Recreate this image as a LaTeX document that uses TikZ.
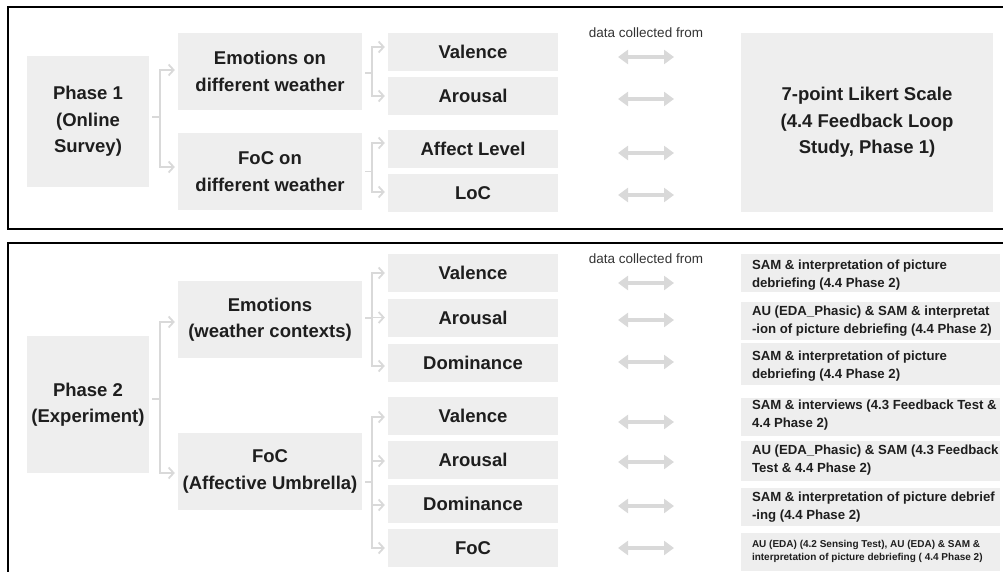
\documentclass[tikz,border=0pt]{standalone}
\usepackage{fontspec}
\setmainfont{Liberation Sans}
\usetikzlibrary{arrows.meta,calc}
\definecolor{boxgray}{HTML}{EEEEEE}
\definecolor{linegray}{HTML}{D9D9D9}
\definecolor{txt}{HTML}{1E1E1E}
\definecolor{txtlight}{HTML}{333333}
\begin{document}
\begin{tikzpicture}[x=1pt,y=-1pt,
  box/.style={fill=boxgray, draw=none, inner sep=0pt, align=center, text=txt,
    font=\bfseries\fontsize{18.5}{26.5}\selectfont},
  lvl/.style={box, minimum width=184pt, minimum height=77pt},
  var/.style={box, minimum width=170pt, minimum height=38pt},
  srcbox/.style={fill=boxgray, draw=none, inner sep=0pt, minimum width=259pt, minimum height=38pt},
  srctext/.style={anchor=west, inner sep=0pt, align=left, text=txt,
    font=\bfseries\fontsize{13.2}{18.3}\selectfont},
  conn/.style={draw=linegray, line width=1.8pt, -{Straight Barb[length=5pt,width=11pt]},
    shorten <=3pt, shorten >=3pt},
  dbl/.style={draw=linegray, line width=4pt,
    {Triangle[length=10pt,width=14pt]}-{Triangle[length=10pt,width=14pt]}},
  frame/.style={draw=black, line width=2.2pt},
  dlabel/.style={text=txtlight, inner sep=0pt, font=\fontsize{13.5}{16}\selectfont}
]
\useasboundingbox (0,0) rectangle (1003,572);
\clip (0,0) rectangle (1003,572);

% frames
\draw[frame] (8,7) rectangle (1012,229);
\draw[frame] (8,243) rectangle (1012,590);

% ---------------- Phase 1 ----------------
\node[box, minimum width=122pt, minimum height=131pt] (p1) at (88,121.5) {Phase 1\\(Online\\Survey)};
\node[lvl] (e1) at (270,71.5) {Emotions on\\different weather};
\node[lvl] (f1) at (270,171.5) {FoC on\\different weather};
\node[var] (v1) at (473,52) {Valence};
\node[var] (a1) at (473,96) {Arousal};
\node[var] (al1) at (473,149) {Affect Level};
\node[var] (l1) at (473,193) {LoC};
\node[box, minimum width=252pt, minimum height=179pt] (lk) at (867,122.5) {7-point Likert Scale\\(4.4 Feedback Loop\\Study, Phase 1)};
\node[dlabel] (dc1) at (646,33) {data collected from};

\draw[conn] ([yshift=4.5pt]p1.east) -- ++(11,0) |- ([yshift=1.5pt]e1.west);
\draw[conn] ([yshift=4.5pt]p1.east) -- ++(11,0) |- ([yshift=4.5pt]f1.west);
\draw[conn] ([yshift=-1.5pt]e1.east) -- ++(10,0) |- ([yshift=5pt]v1.west);
\draw[conn] ([yshift=-1.5pt]e1.east) -- ++(10,0) |- (a1.west);
\draw[conn] (f1.east) -- ++(10,0) |- ([yshift=6pt]al1.west);
\draw[conn] (f1.east) -- ++(10,0) |- ([yshift=1pt]l1.west);

\coordinate (ta1) at (618,57);  \coordinate (tb1) at (674,57);
\coordinate (ta2) at (618,99);  \coordinate (tb2) at (674,99);
\coordinate (ta3) at (618,153); \coordinate (tb3) at (674,153);
\coordinate (ta4) at (618,195); \coordinate (tb4) at (674,195);
\foreach \i in {1,...,4} {\draw[dbl] (ta\i) -- (tb\i);}

% ---------------- Phase 2 ----------------
\node[box, minimum width=122pt, minimum height=137pt] (p2) at (88,404.5) {Phase 2\\(Experiment)};
\node[lvl] (e2) at (270,319.5) {Emotions\\(weather contexts)};
\node[lvl] (f2) at (270,471.5) {FoC\\(Affective Umbrella)};
\node[var] (v2) at (473,273) {Valence};
\node[var] (a2) at (473,317.5) {Arousal};
\node[var] (d2) at (473,362.5) {Dominance};
\node[var] (v3) at (473,415.5) {Valence};
\node[var] (a3) at (473,459.5) {Arousal};
\node[var] (d3) at (473,504) {Dominance};
\node[var] (fc3) at (473,548) {FoC};
\node[dlabel] (dc2) at (646,259) {data collected from};

\node[srcbox] (s1) at (870.5,273) {};
\node[srcbox] (s2) at (870.5,321) {};
\node[srcbox, minimum height=42pt] (s3) at (870.5,364) {};
\node[srcbox] (s4) at (870.5,417) {};
\node[srcbox, minimum height=40pt] (s5) at (870.5,461) {};
\node[srcbox] (s6) at (870.5,507) {};
\node[srcbox] (s7) at (870.5,551.5) {};
\node[srctext] (t1) at ([xshift=11pt,yshift=-2pt]s1.west) {SAM \& interpretation of picture\\debriefing (4.4 Phase 2)};
\node[srctext] (t2) at ([xshift=11pt,yshift=0pt]s2.west) {AU (EDA\_Phasic) \& SAM \& interpretat\\-ion of picture debriefing (4.4 Phase 2)};
\node[srctext] (t3) at ([xshift=11pt,yshift=-2pt]s3.west) {SAM \& interpretation of picture\\debriefing (4.4 Phase 2)};
\node[srctext] (t4) at ([xshift=11pt,yshift=2pt]s4.west) {SAM \& interviews (4.3 Feedback Test \&\\4.4 Phase 2)};
\node[srctext] (t5) at ([xshift=11pt,yshift=1pt]s5.west) {AU (EDA\_Phasic) \& SAM (4.3 Feedback\\Test \& 4.4 Phase 2)};
\node[srctext] (t6) at ([xshift=11pt,yshift=0pt]s6.west) {SAM \& interpretation of picture debrief\\-ing (4.4 Phase 2)};
\node[srctext, font=\bfseries\fontsize{10}{13.7}\selectfont] (t7) at ([xshift=11pt]s7.west) {AU (EDA) (4.2 Sensing Test), AU (EDA) \& SAM \&\\interpretation of picture debriefing ( 4.4 Phase 2)};

\draw[conn] ([yshift=5.5pt]p2.east) -- ++(11,0) |- ([yshift=-2.5pt]e2.west);
\draw[conn] ([yshift=5.5pt]p2.east) -- ++(11,0) |- ([yshift=-1.5pt]f2.west);
\draw[conn] ([yshift=1.5pt]e2.east) -- ++(10,0) |- (v2.west);
\draw[conn] ([yshift=1.5pt]e2.east) -- ++(10,0) |- (a2.west);
\draw[conn] ([yshift=1.5pt]e2.east) -- ++(10,0) |- ([yshift=-3.5pt]d2.west);
\draw[conn] ([yshift=-10.5pt]f2.east) -- ++(10,0) |- ([yshift=-1.5pt]v3.west);
\draw[conn] ([yshift=-10.5pt]f2.east) -- ++(10,0) |- ([yshift=-1.5pt]a3.west);
\draw[conn] ([yshift=-10.5pt]f2.east) -- ++(10,0) |- ([yshift=-1pt]d3.west);
\draw[conn] ([yshift=-10.5pt]f2.east) -- ++(10,0) |- (fc3.west);

\coordinate (ba1) at (618,283); \coordinate (bb1) at (674,283);
\coordinate (ba2) at (618,320); \coordinate (bb2) at (674,320);
\coordinate (ba3) at (618,362); \coordinate (bb3) at (674,362);
\coordinate (ba4) at (618,422); \coordinate (bb4) at (674,422);
\coordinate (ba5) at (618,462); \coordinate (bb5) at (674,462);
\coordinate (ba6) at (618,506); \coordinate (bb6) at (674,506);
\coordinate (ba7) at (618,548); \coordinate (bb7) at (674,548);
\foreach \i in {1,...,7} {\draw[dbl] (ba\i) -- (bb\i);}
\end{tikzpicture}
\end{document}
